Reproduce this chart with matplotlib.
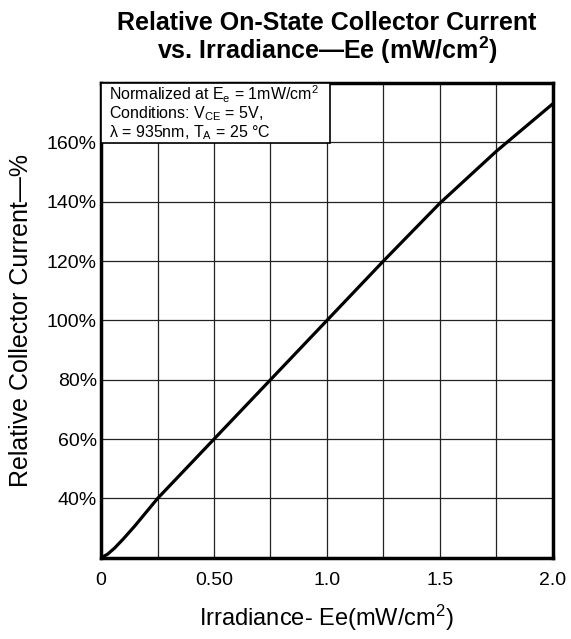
import matplotlib.pyplot as plt
from matplotlib.patches import Rectangle

plt.rcParams['font.family'] = ['Liberation Sans', 'DejaVu Sans']
plt.rcParams['mathtext.fontset'] = 'custom'
plt.rcParams['mathtext.rm'] = 'Liberation Sans'
plt.rcParams['mathtext.it'] = 'Liberation Sans'
plt.rcParams['mathtext.bf'] = 'Liberation Sans:bold'

# curve
irradiance = [0, 0.03, 0.06, 0.10, 0.15, 0.25, 0.50, 0.75, 1.0, 1.25, 1.5, 1.75, 2.0]
rel_current = [20, 21.3, 23.3, 26.5, 30.8, 40, 60, 80, 100, 120, 139.5, 157, 173]

x_ticks = [0, 0.5, 1.0, 1.5, 2.0]
x_labels = ['0', '0.50', '1.0', '1.5', '2.0']
y_ticks = [40, 60, 80, 100, 120, 140, 160]
y_labels = [f'{v}%' for v in y_ticks]

fig = plt.figure(figsize=(5.71, 6.39), dpi=100)
ax = fig.add_axes([0.177, 0.127, 0.791, 0.743])

# grid every 0.25 / 20%
for gx in [0.25 * i for i in range(1, 8)]:
    ax.axvline(gx, color='#222222', lw=0.9, zorder=1)
for gy in range(40, 180, 20):
    ax.axhline(gy, color='#222222', lw=0.9, zorder=1)

ax.plot(irradiance, rel_current, color='black', lw=2.3, zorder=3)

ax.set_xlim(0, 2.0)
ax.set_ylim(20, 180)
ax.set_xticks(x_ticks)
ax.set_xticklabels(x_labels, fontsize=14)
ax.set_yticks(y_ticks)
ax.set_yticklabels(y_labels, fontsize=14)
ax.tick_params(axis='x', length=0, pad=10)
ax.tick_params(axis='y', length=0, pad=3)
for s in ax.spines.values():
    s.set_linewidth(2.5)

ax.set_xlabel('Irradiance- Ee(mW/cm$^2$)', fontsize=17, labelpad=10)
ax.set_ylabel('Relative Collector Current\u2014%', fontsize=18, labelpad=10)
ax.set_title('Relative On-State Collector Current\nvs. Irradiance\u2014Ee (mW/cm$^\\mathbf{2}$)',
             fontsize=18, fontweight='bold', pad=17, linespacing=1.0)

# conditions box
ax.add_patch(Rectangle((0, 0.874), 0.507, 0.126, transform=ax.transAxes,
                       facecolor='white', edgecolor='black', lw=1.2, zorder=4))
box_text = ('Normalized at E$_\\mathrm{e}$ = 1mW/cm$^2$\n'
            'Conditions: V$_\\mathrm{CE}$ = 5V,\n'
            '\u03bb = 935nm, T$_\\mathrm{A}$ = 25 \u00b0C')
ax.text(0.018, 0.999, box_text, transform=ax.transAxes, fontsize=11.5,
        va='top', ha='left', linespacing=0.98, zorder=5)

fig.savefig('out.png', dpi=100)
